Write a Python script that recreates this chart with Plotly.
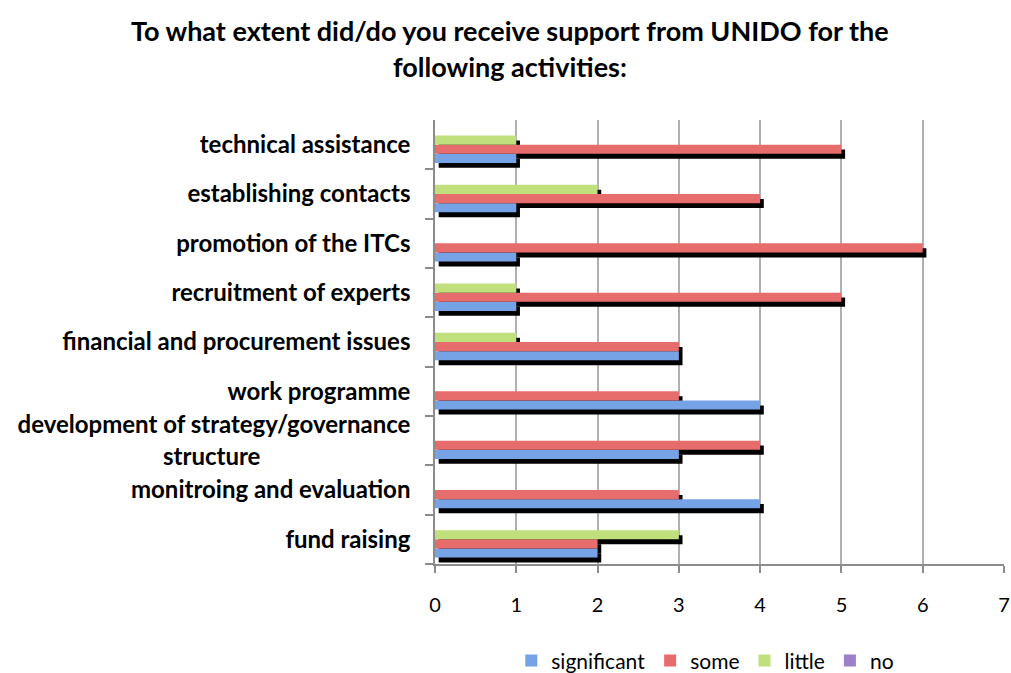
import plotly.graph_objects as go

# ---- data (top to bottom as shown) ----
categories = [
    "technical assistance",
    "establishing contacts",
    "promotion of the ITCs",
    "recruitment of experts",
    "financial and procurement issues",
    "work programme",
    "development of strategy/governance structure",
    "monitroing and evaluation",
    "fund raising",
]
tick_labels = [
    "technical assistance",
    "establishing contacts",
    "promotion of the ITCs",
    "recruitment of experts",
    "financial and procurement issues",
    "work programme",
    "development of strategy/governance<br>structure" + "\u2003" * 8 + "\u2005",
    "monitroing and evaluation",
    "fund raising",
]
significant = [1, 1, 1, 1, 3, 4, 3, 4, 2]
some = [5, 4, 6, 5, 3, 3, 4, 3, 2]
little = [1, 2, 0, 1, 1, 0, 0, 0, 3]
no = [0, 0, 0, 0, 0, 0, 0, 0, 0]

series_names = ["significant", "some", "little", "no"]
series_values = [significant, some, little, no]
series_colors = ["#76a2e6", "#e76c6c", "#bfe07c", "#9b80cc"]

title_line1 = "To what extent did/do you receive support from UNIDO for the"
title_line2 = "following activities:"

FONT = "Lato"
bar_w = 0.185
shadow_dx = 0.045
shadow_dy = 0.1

fig = go.Figure()

# shadows first (behind)
for i, (name, vals) in enumerate(zip(series_names, series_values)):
    off = -2 * bar_w + i * bar_w
    fig.add_trace(go.Bar(
        y=categories, x=vals, base=shadow_dx, orientation="h",
        offset=off - shadow_dy, width=bar_w,
        marker=dict(color="black", line=dict(width=0)),
        showlegend=False, hoverinfo="skip",
    ))

for i, (name, vals, col) in enumerate(zip(series_names, series_values, series_colors)):
    off = -2 * bar_w + i * bar_w
    fig.add_trace(go.Bar(
        y=categories, x=vals, orientation="h", name=name,
        offset=off, width=bar_w,
        marker=dict(color=col, line=dict(width=0)),
    ))

fig.update_layout(
    width=1011, height=673,
    barmode="overlay",
    paper_bgcolor="white", plot_bgcolor="white",
    margin=dict(l=435, r=7, t=120, b=109, autoexpand=False),
    font=dict(family=FONT, color="black"),
    showlegend=True,
    legend=dict(orientation="h", x=0.475, xanchor="center", y=-0.218, yanchor="middle",
                font=dict(size=21, family=FONT), traceorder="normal"),
    annotations=[
        dict(text="<b>" + title_line1 + "</b>", xref="paper", yref="paper",
             x=0.132, y=1.2027, xanchor="center", yanchor="middle", showarrow=False,
             font=dict(size=27, family=FONT)),
        dict(text="<b>" + title_line2 + "</b>", xref="paper", yref="paper",
             x=0.132, y=1.1216, xanchor="center", yanchor="middle", showarrow=False,
             font=dict(size=27, family=FONT)),
    ],
)

fig.update_xaxes(
    range=[0, 7], dtick=1, tick0=0,
    showgrid=True, gridcolor="#b0b0b0", gridwidth=1.5,
    showline=True, linecolor="#8c8c8c", linewidth=1.5,
    ticks="outside", ticklen=7, tickcolor="#8c8c8c", tickwidth=1.5,
    zeroline=False, tickfont=dict(size=20, family=FONT), ticklabelstandoff=15,
)
fig.update_yaxes(
    type="category", categoryorder="array", categoryarray=categories[::-1],
    tickmode="array", tickvals=categories, ticktext=tick_labels,
    showgrid=False, showline=True, linecolor="#8c8c8c", linewidth=1.5,
    ticks="outside", ticklen=8, tickcolor="#8c8c8c", tickwidth=1.5,
    tickson="boundaries", ticklabelstandoff=18,
    tickfont=dict(size=24, family=FONT, weight="bold"),
    range=[-0.5, 8.5],
)

fig.write_html("out.html", config={"displayModeBar": False},
               post_script="document.body.style.margin='0';")
